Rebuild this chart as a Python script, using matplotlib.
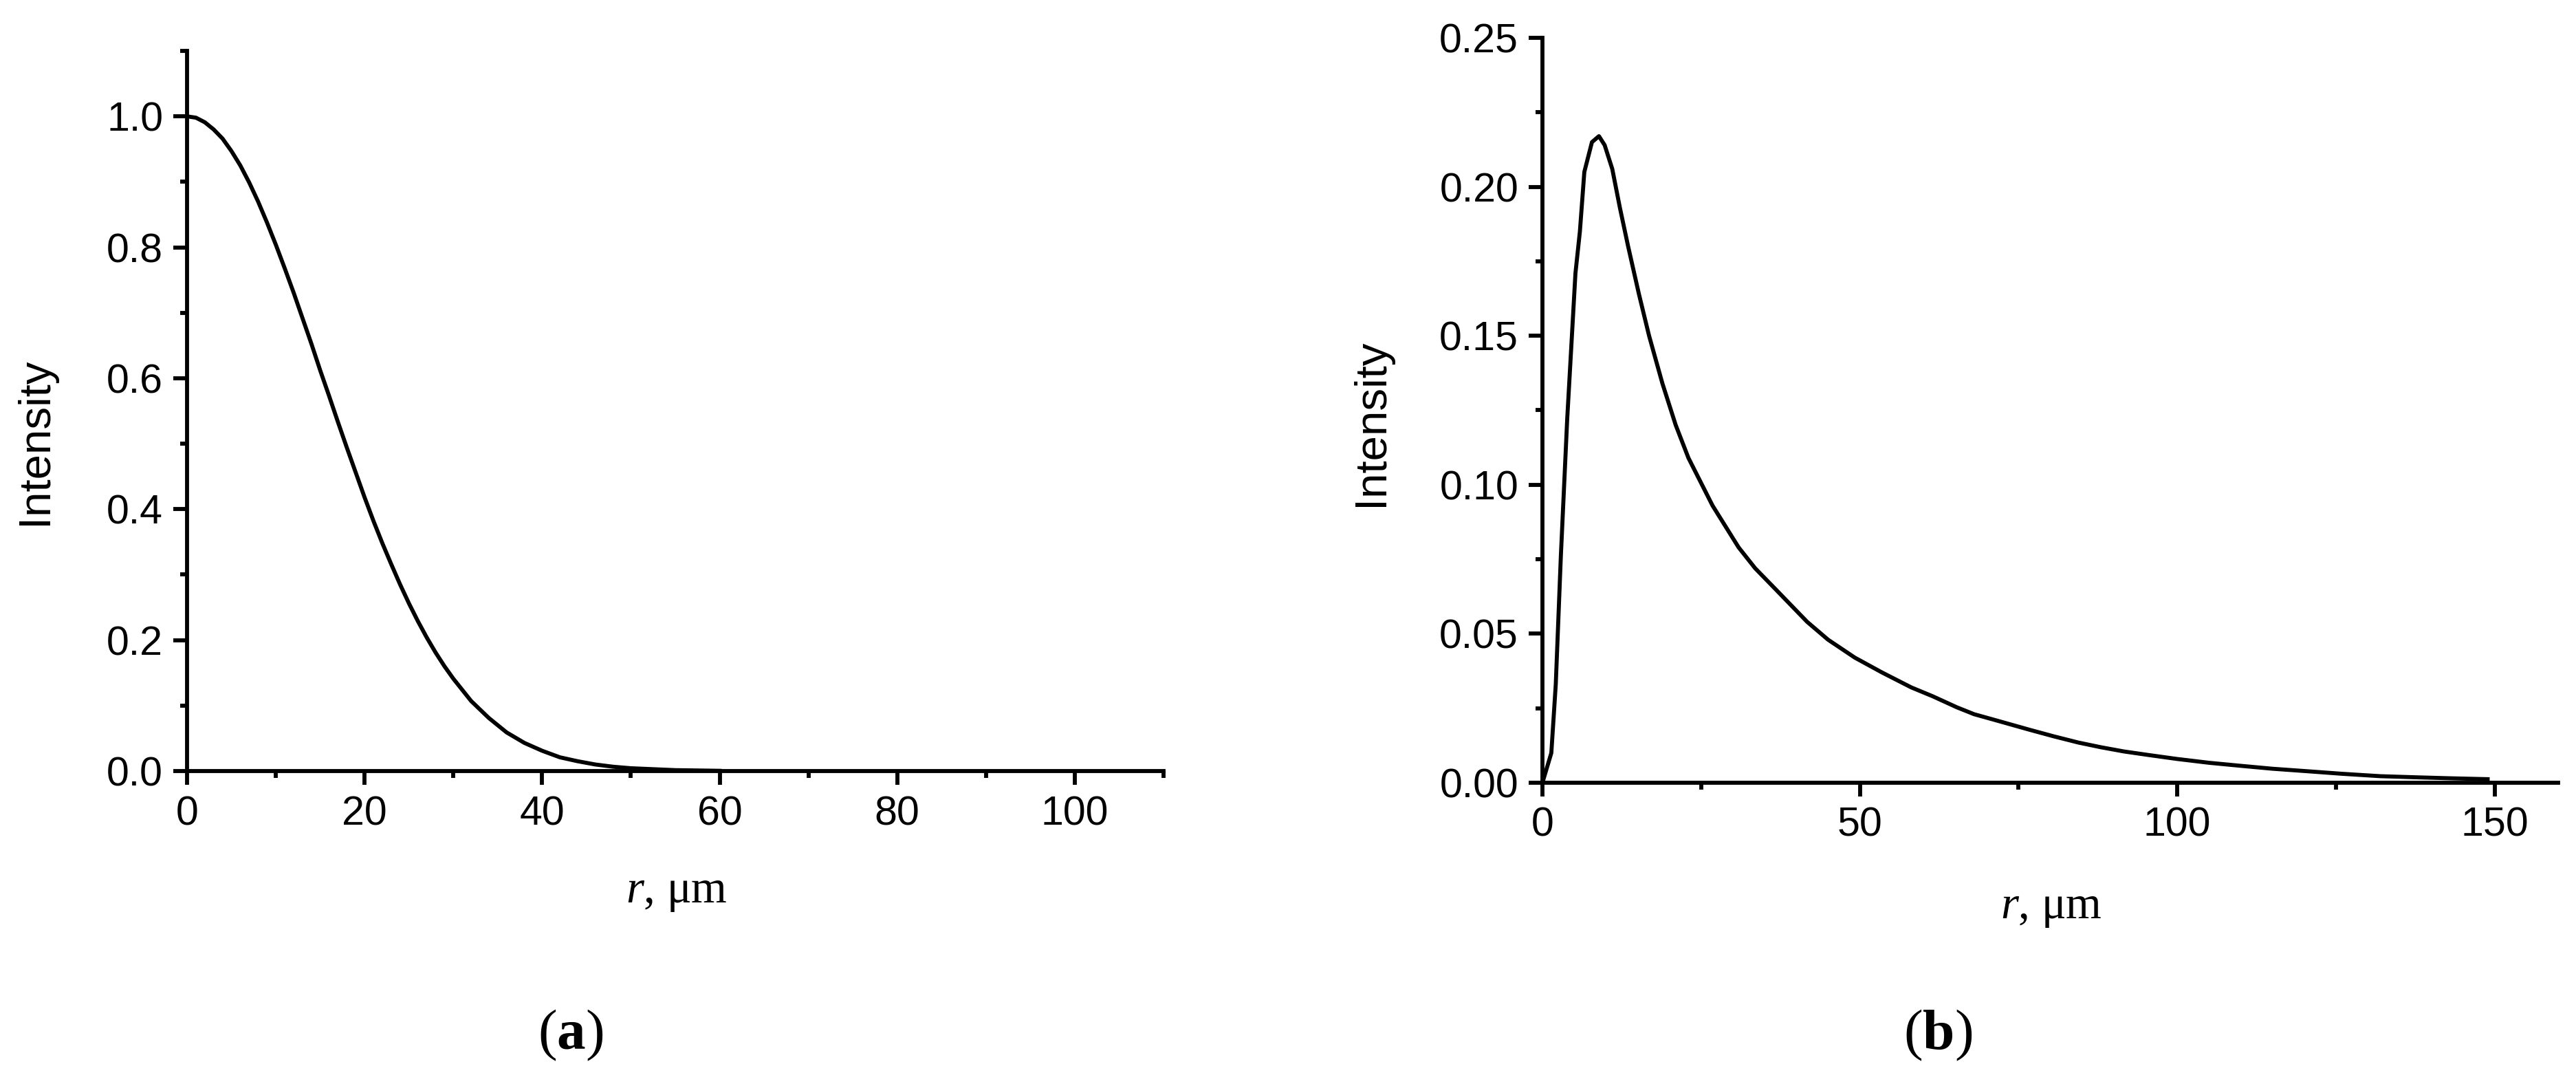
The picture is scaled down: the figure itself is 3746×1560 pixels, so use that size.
import matplotlib
matplotlib.use("Agg")
import matplotlib.pyplot as plt
from matplotlib.ticker import MultipleLocator, FormatStrFormatter

plt.rcParams['mathtext.fontset'] = 'custom'
plt.rcParams['mathtext.rm'] = 'Liberation Serif'
plt.rcParams['mathtext.it'] = 'Liberation Serif:italic'
plt.rcParams['mathtext.bf'] = 'Liberation Serif:bold'

# --- data ---
# (a) radial intensity profile of the beam
r_a = [0, 1, 2, 3, 4, 5, 6, 7, 8, 9, 10, 11, 12, 13, 14, 15, 16, 17, 18,
       19, 20, 21, 22, 23, 24, 25, 26, 27, 28, 29, 30, 32, 34, 36, 38, 40,
       42, 44, 46, 48, 50, 55, 60]
int_a = [1.000, 0.998, 0.991, 0.980, 0.966, 0.947, 0.925, 0.899, 0.870,
         0.838, 0.804, 0.768, 0.731, 0.692, 0.653, 0.612, 0.573, 0.533,
         0.494, 0.456, 0.418, 0.382, 0.348, 0.316, 0.285, 0.256, 0.229,
         0.204, 0.181, 0.160, 0.141, 0.107, 0.081, 0.059, 0.043, 0.031,
         0.021, 0.015, 0.010, 0.0066, 0.0043, 0.0014, 0.0004]

# (b) radial intensity profile, ring-like
r_b = [0, 1.4, 2.1, 2.9, 3.9, 5.2, 5.9, 6.6, 7.8, 8.9, 9.8, 11.0, 12.2,
       13.5, 15.2, 16.8, 18.9, 21.0, 23.0, 26.8, 30.9, 33.5, 36.7, 41.7,
       45.0, 49.2, 53.5, 58.1, 61.5, 65.3, 68.0, 71.2, 76.7, 80.5, 84.4,
       88.0, 91.6, 95.5, 99.9, 105.0, 109.9, 115.0, 120.9, 126.0, 132.0,
       138.0, 143.0, 148.9]
int_b = [0, 0.010, 0.033, 0.076, 0.122, 0.171, 0.185, 0.205, 0.215, 0.217,
         0.214, 0.206, 0.193, 0.180, 0.164, 0.150, 0.134, 0.120, 0.109,
         0.093, 0.079, 0.072, 0.065, 0.054, 0.048, 0.042, 0.037, 0.032,
         0.029, 0.0253, 0.023, 0.0211, 0.0178, 0.0156, 0.0135, 0.0119,
         0.0105, 0.0093, 0.0080, 0.0067, 0.0057, 0.0047, 0.0038, 0.0030,
         0.0022, 0.0018, 0.0015, 0.0012]

W, H = 3746, 1560
DPI = 300
LW = 1.4
SANS = 'Liberation Sans'
SERIF = 'Liberation Serif'

fig = plt.figure(figsize=(W / DPI, H / DPI), dpi=DPI)


def px_box(x0, x1, ytop, ybot):
    return [x0 / W, 1 - ybot / H, (x1 - x0) / W, (ybot - ytop) / H]


def style_axes(ax, xmax, ymax, xmaj, xmin, ymaj, ymin, yfmt):
    ax.set_xlim(0, xmax)
    ax.set_ylim(0, ymax)
    for s in ('top', 'right'):
        ax.spines[s].set_visible(False)
    for s in ('left', 'bottom'):
        ax.spines[s].set_linewidth(LW)
    ax.xaxis.set_major_locator(MultipleLocator(xmaj))
    ax.xaxis.set_minor_locator(MultipleLocator(xmin))
    ax.yaxis.set_major_locator(MultipleLocator(ymaj))
    ax.yaxis.set_minor_locator(MultipleLocator(ymin))
    ax.yaxis.set_major_formatter(FormatStrFormatter(yfmt))
    ax.xaxis.set_major_formatter(FormatStrFormatter('%d'))
    ax.tick_params(which='major', direction='out', length=4.8, width=LW,
                   pad=3.6, labelsize=14.2)
    ax.tick_params(which='minor', direction='out', length=2.3, width=LW)
    for lab in ax.get_xticklabels() + ax.get_yticklabels():
        lab.set_fontfamily(SANS)


# --- panel (a) ---
ax1 = fig.add_axes(px_box(272, 1692, 74, 1121))
ax1.plot(r_a, int_a, color='black', lw=LW)
style_axes(ax1, 110, 1.1, 20, 10, 0.2, 0.1, '%.1f')

# --- panel (b) ---
ax2 = fig.add_axes(px_box(2243, 3720, 55, 1138))
ax2.plot(r_b, int_b, color='black', lw=LW)
style_axes(ax2, 160, 0.25, 50, 25, 0.05, 0.025, '%.2f')

# axis labels and panel letters
fig.text(51 / W, 1 - 641 / H, 'Intensity', rotation=90, ha='center',
         va='center', fontsize=15.7, family=SANS)
fig.text(1994 / W, 1 - 614 / H, 'Intensity', rotation=90, ha='center',
         va='center', fontsize=15.7, family=SANS)

fig.text(984 / W, 1 - 1312 / H, r'$r$, μm', ha='center', va='baseline',
         fontsize=16, family=SERIF)
fig.text(2983 / W, 1 - 1335 / H, r'$r$, μm', ha='center', va='baseline',
         fontsize=16, family=SERIF)

fig.text(830 / W, 1 - 1525 / H, r'($\mathbf{a}$)', ha='center',
         va='baseline', fontsize=20, family=SERIF)
fig.text(2818 / W, 1 - 1525 / H, r'($\mathbf{b}$)', ha='center',
         va='baseline', fontsize=20, family=SERIF)

fig.savefig('out.png', dpi=DPI)
